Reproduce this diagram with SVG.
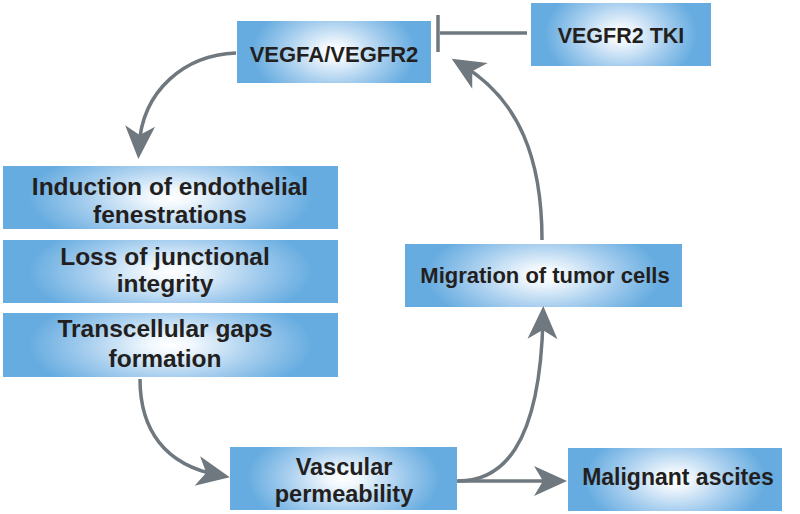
<svg xmlns="http://www.w3.org/2000/svg" width="800" height="514" viewBox="0 0 800 514">
<defs>
<radialGradient id="g" cx="0.5" cy="0.5" r="0.5" gradientTransform="translate(0.5 0.5) scale(0.85 1.7) translate(-0.5 -0.5)">
<stop offset="0" stop-color="#ffffff"/>
<stop offset="0.15" stop-color="#f2f8fd"/>
<stop offset="0.6" stop-color="#a5cdee"/>
<stop offset="1" stop-color="#66ace0"/>
</radialGradient>
<marker id="ah" markerUnits="userSpaceOnUse" markerWidth="40" markerHeight="40" viewBox="-25 -20 40 40" refX="0" refY="0" orient="auto">
<path d="M12,0 L-21,-15 L-12,0 L-21,15 Z" fill="#6f787e"/>
</marker>
<style>
.box{fill:url(#g);}
.t{font-family:"Liberation Sans",Arial,sans-serif;font-weight:bold;fill:#231f20;text-anchor:middle;}
.c{fill:none;stroke:#6f787e;stroke-width:3.5;}
</style>
</defs>
<g id="vegfa"><rect class="box" x="237" y="21" width="194" height="62"/><text class="t" x="334" y="62" font-size="22">VEGFA/VEGFR2</text></g>
<g id="tki"><rect class="box" x="531" y="3" width="180" height="63"/><text class="t" x="621" y="43" font-size="21.5">VEGFR2 TKI</text></g>
<g id="induction"><rect class="box" x="3" y="166" width="335" height="63"/><text class="t" x="170" y="195" font-size="24.5">Induction of endothelial</text><text class="t" x="170" y="223" font-size="24.5">fenestrations</text></g>
<g id="loss"><rect class="box" x="3" y="240" width="335" height="63"/><text class="t" x="165" y="265" font-size="24.5">Loss of junctional</text><text class="t" x="165" y="292" font-size="24.5">integrity</text></g>
<g id="gaps"><rect class="box" x="3" y="313" width="335" height="64"/><text class="t" x="165" y="337" font-size="24.5">Transcellular gaps</text><text class="t" x="165" y="367" font-size="24.5">formation</text></g>
<g id="migration"><rect class="box" x="405" y="244" width="277" height="63"/><text class="t" x="545" y="283" font-size="22">Migration of tumor cells</text></g>
<g id="vascular"><rect class="box" x="230" y="447" width="227" height="63"/><text class="t" x="344" y="475" font-size="23.5">Vascular</text><text class="t" x="344" y="502" font-size="23.5">permeability</text></g>
<g id="ascites"><rect class="box" x="568" y="448" width="214" height="63"/><text class="t" x="678" y="485" font-size="23">Malignant ascites</text></g>
<g id="connectors">
<path class="c" d="M236,53 C185,55 142,90 139,147" marker-end="url(#ah)"/>
<path class="c" d="M140,379 C140,430 165,465 218,475" marker-end="url(#ah)"/>
<path class="c" d="M457,481 L555,481" marker-end="url(#ah)"/>
<path class="c" d="M458,481 C500,481 540,450 543,318" marker-end="url(#ah)"/>
<path class="c" d="M542,240 C542,160 520,100 462,65" marker-end="url(#ah)"/>
<path class="c" d="M527,33 L440,33"/>
<path class="c" d="M438,15 L438,52"/>
</g>
</svg>
